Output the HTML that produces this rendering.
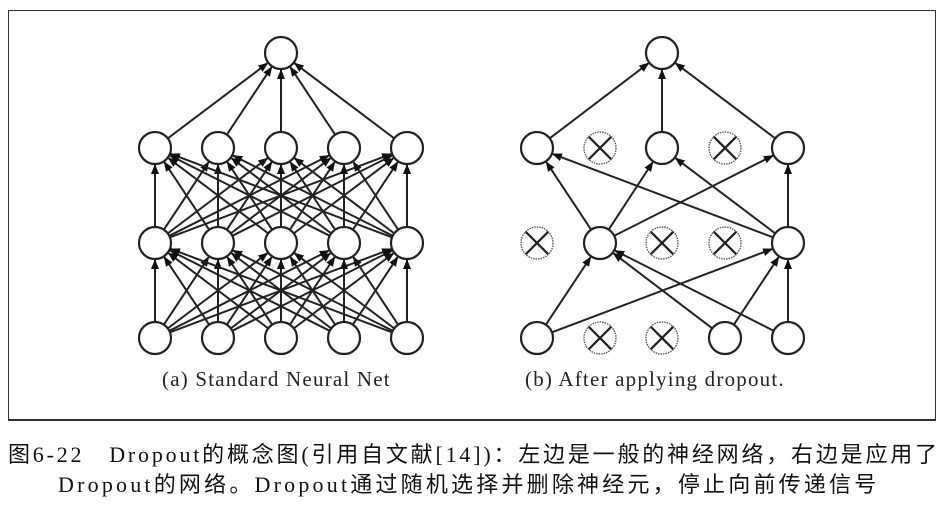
<!DOCTYPE html>
<html><head><meta charset="utf-8"><style>
html,body{margin:0;padding:0;background:#fff;}
body{width:949px;height:505px;position:relative;overflow:hidden;font-family:"Liberation Serif","Noto Serif CJK SC",serif;}
.frame{position:absolute;left:8px;top:10px;width:926px;height:408px;border:1.5px solid #333;border-bottom:2px solid #333;background:#fff;}
.cap{position:absolute;font-size:21px;color:#222;white-space:nowrap;letter-spacing:1.2px;}
.ln{position:absolute;font-size:22px;color:#111;white-space:nowrap;font-family:"Liberation Serif","Noto Sans CJK SC",serif;}
</style></head><body>
<div class="frame"></div>
<svg id="s" width="949" height="505" style="position:absolute;left:0;top:0">
<defs><marker id="a" markerWidth="10" markerHeight="10" refX="9" refY="5" orient="auto" markerUnits="userSpaceOnUse"><path d="M0,1 L10,5 L0,9 z" fill="#111"/></marker></defs>
<g id="e" stroke="#222" stroke-width="2" fill="none"></g>
<g id="n"></g>
</svg>
<div class="cap" style="left:162px;top:367px">(a) Standard Neural Net</div>
<div class="cap" style="left:525px;top:367px">(b) After applying dropout.</div>
<div class="ln" style="left:8px;top:437px;letter-spacing:2.8px">图6-22&nbsp;&nbsp; Dropout的概念图(引用自文献[14])：左边是一般的神经网络，右边是应用了</div>
<div class="ln" style="left:58px;top:467px;letter-spacing:3.2px">Dropout的网络。Dropout通过随机选择并删除神经元，停止向前传递信号</div>
<script>
var NS="http://www.w3.org/2000/svg",E=document.getElementById('e'),N=document.getElementById('n'),R=16;
function line(x1,y1,x2,y2){var dx=x2-x1,dy=y2-y1,d=Math.hypot(dx,dy),ux=dx/d,uy=dy/d;
var l=document.createElementNS(NS,'line');l.setAttribute('x1',x1+ux*R);l.setAttribute('y1',y1+uy*R);l.setAttribute('x2',x2-ux*(R+1));l.setAttribute('y2',y2-uy*(R+1));l.setAttribute('marker-end','url(#a)');E.appendChild(l);}
function node(x,y,drop){var c=document.createElementNS(NS,'circle');c.setAttribute('cx',x);c.setAttribute('cy',y);c.setAttribute('r',R);c.setAttribute('fill','#fff');c.setAttribute('stroke',drop?'#555':'#222');c.setAttribute('stroke-width',drop?1.4:2.2);if(drop)c.setAttribute('stroke-dasharray','1.5 1');N.appendChild(c);
if(drop){var k=R*0.7;[[x-k,y-k,x+k,y+k],[x-k,y+k,x+k,y-k]].forEach(function(p){var l=document.createElementNS(NS,'line');l.setAttribute('x1',p[0]);l.setAttribute('y1',p[1]);l.setAttribute('x2',p[2]);l.setAttribute('y2',p[3]);l.setAttribute('stroke','#222');l.setAttribute('stroke-width',2.2);N.appendChild(l);});}}
var Y=[338,243,148],TY=53;
var LX=[155,218,281,344,407];
for(var r=0;r<2;r++)for(var i=0;i<5;i++)for(var j=0;j<5;j++)line(LX[i],Y[r],LX[j],Y[r+1]);
for(var i=0;i<5;i++)line(LX[i],Y[2],281,TY);
for(var r=0;r<3;r++)for(var i=0;i<5;i++)node(LX[i],Y[r],false);
node(281,TY,false);
var RX=[537,600,662,725,788];
var keep=[[0,3,4],[1,4],[0,2,4]];
[[0,1],[3,1],[4,1],[0,4],[3,4],[4,4]].forEach(function(p){line(RX[p[0]],Y[0],RX[p[1]],Y[1]);});
[[1,0],[4,0],[1,2],[4,2],[1,4],[4,4]].forEach(function(p){line(RX[p[0]],Y[1],RX[p[1]],Y[2]);});
[0,2,4].forEach(function(i){line(RX[i],Y[2],662,TY);});
for(var r=0;r<3;r++)for(var i=0;i<5;i++)node(RX[i],Y[r],keep[r].indexOf(i)<0);
node(662,TY,false);
</script>
</body></html>
